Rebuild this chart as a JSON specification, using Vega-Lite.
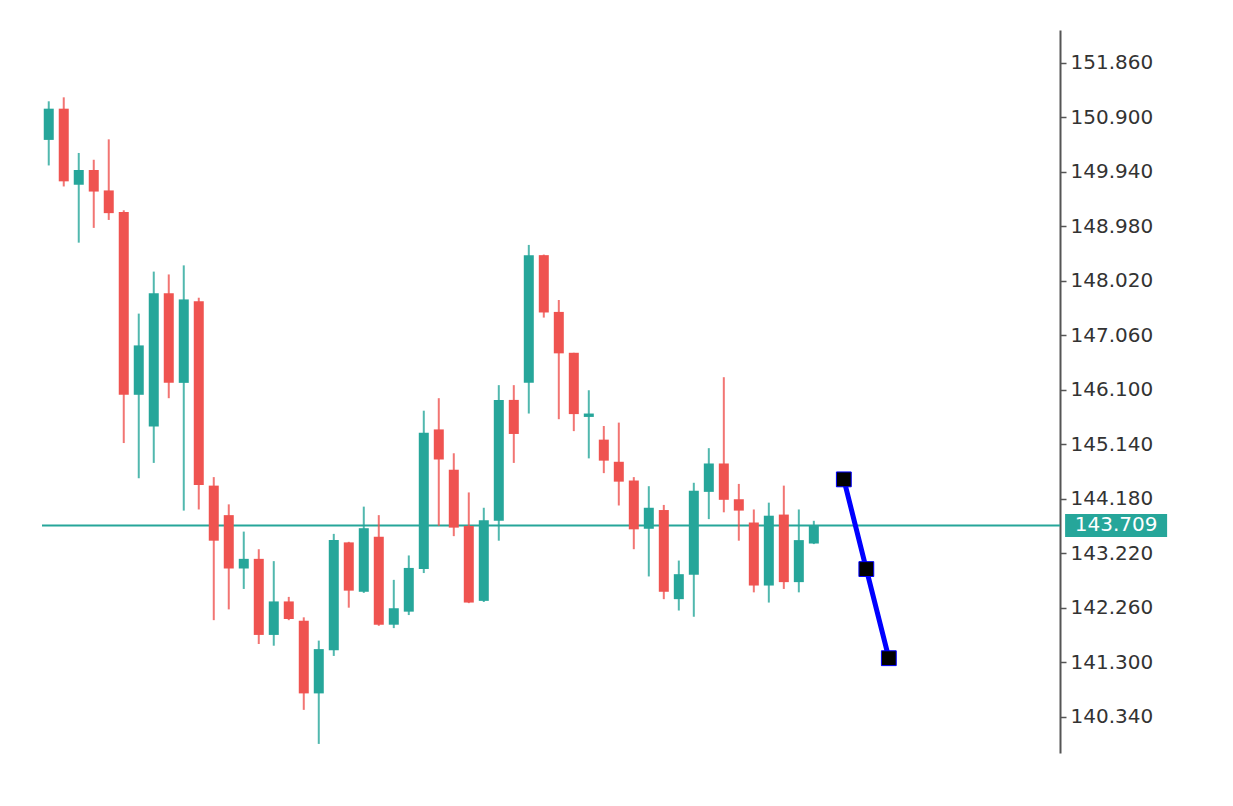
{
  "$schema": "https://vega.github.io/schema/vega-lite/v6.json",
  "width": 1018,
  "height": 723,
  "autosize": {"type": "none"},
  "padding": {"left": 42, "top": 30, "right": 173, "bottom": 53},
  "background": "#ffffff",
  "config": {
    "view": {"stroke": null},
    "axisY": {
      "orient": "right",
      "title": null,
      "grid": false,
      "domainColor": "#555555",
      "domainWidth": 2,
      "tickColor": "#555555",
      "tickWidth": 1.5,
      "tickSize": 6,
      "labelPadding": 4,
      "labelFont": "DejaVu Sans",
      "labelFontSize": 20,
      "labelColor": "#333333",
      "labelOverlap": false,
      "labelBound": false,
      "labelFlush": false
    }
  },
  "datasets": {
    "candles": [
      {"i":0,"o":150.50,"h":151.18,"l":150.05,"c":151.05},
      {"i":1,"o":151.05,"h":151.25,"l":149.68,"c":149.77},
      {"i":2,"o":149.71,"h":150.27,"l":148.69,"c":149.97},
      {"i":3,"o":149.97,"h":150.15,"l":148.95,"c":149.59},
      {"i":4,"o":149.61,"h":150.51,"l":149.09,"c":149.21},
      {"i":5,"o":149.23,"h":149.26,"l":145.16,"c":146.01},
      {"i":6,"o":146.01,"h":147.44,"l":144.54,"c":146.88},
      {"i":7,"o":145.45,"h":148.18,"l":144.81,"c":147.80},
      {"i":8,"o":147.80,"h":148.13,"l":145.95,"c":146.22},
      {"i":9,"o":146.22,"h":148.29,"l":143.97,"c":147.69},
      {"i":10,"o":147.66,"h":147.72,"l":143.99,"c":144.42},
      {"i":11,"o":144.41,"h":144.56,"l":142.04,"c":143.44},
      {"i":12,"o":143.89,"h":144.08,"l":142.23,"c":142.95},
      {"i":13,"o":142.95,"h":143.60,"l":142.59,"c":143.12},
      {"i":14,"o":143.12,"h":143.29,"l":141.62,"c":141.78},
      {"i":15,"o":141.78,"h":143.08,"l":141.59,"c":142.37},
      {"i":16,"o":142.37,"h":142.45,"l":142.04,"c":142.06},
      {"i":17,"o":142.03,"h":142.09,"l":140.46,"c":140.75},
      {"i":18,"o":140.75,"h":141.68,"l":139.86,"c":141.53},
      {"i":19,"o":141.51,"h":143.56,"l":141.41,"c":143.45},
      {"i":20,"o":143.41,"h":143.42,"l":142.26,"c":142.56},
      {"i":21,"o":142.54,"h":144.04,"l":142.52,"c":143.66},
      {"i":22,"o":143.51,"h":143.89,"l":141.94,"c":141.96},
      {"i":23,"o":141.96,"h":142.75,"l":141.90,"c":142.25},
      {"i":24,"o":142.19,"h":143.18,"l":142.13,"c":142.96},
      {"i":25,"o":142.94,"h":145.73,"l":142.87,"c":145.34},
      {"i":26,"o":145.40,"h":145.95,"l":143.70,"c":144.87},
      {"i":27,"o":144.69,"h":144.98,"l":143.52,"c":143.67},
      {"i":28,"o":143.70,"h":144.29,"l":142.34,"c":142.35},
      {"i":29,"o":142.38,"h":144.02,"l":142.36,"c":143.80},
      {"i":30,"o":143.79,"h":146.18,"l":143.44,"c":145.92},
      {"i":31,"o":145.92,"h":146.18,"l":144.81,"c":145.32},
      {"i":32,"o":146.22,"h":148.65,"l":145.68,"c":148.47},
      {"i":33,"o":148.47,"h":148.48,"l":147.37,"c":147.46},
      {"i":34,"o":147.47,"h":147.68,"l":145.58,"c":146.74},
      {"i":35,"o":146.75,"h":146.75,"l":145.37,"c":145.67},
      {"i":36,"o":145.62,"h":146.09,"l":144.89,"c":145.68},
      {"i":37,"o":145.22,"h":145.46,"l":144.63,"c":144.85},
      {"i":38,"o":144.83,"h":145.52,"l":144.06,"c":144.48},
      {"i":39,"o":144.50,"h":144.56,"l":143.29,"c":143.64},
      {"i":40,"o":143.65,"h":144.40,"l":142.81,"c":144.02},
      {"i":41,"o":143.98,"h":144.07,"l":142.41,"c":142.54},
      {"i":42,"o":142.41,"h":143.09,"l":142.21,"c":142.85},
      {"i":43,"o":142.84,"h":144.46,"l":142.10,"c":144.32},
      {"i":44,"o":144.30,"h":145.07,"l":143.82,"c":144.80},
      {"i":45,"o":144.80,"h":146.32,"l":143.94,"c":144.16},
      {"i":46,"o":144.17,"h":144.44,"l":143.44,"c":143.97},
      {"i":47,"o":143.76,"h":143.99,"l":142.53,"c":142.65},
      {"i":48,"o":142.65,"h":144.11,"l":142.35,"c":143.88},
      {"i":49,"o":143.90,"h":144.41,"l":142.59,"c":142.71},
      {"i":50,"o":142.71,"h":143.99,"l":142.53,"c":143.45},
      {"i":51,"o":143.39,"h":143.79,"l":143.38,"c":143.709}
    ],
    "forecast": [
      {"i":53,"p":144.52},
      {"i":54.5,"p":142.94},
      {"i":56,"p":141.37}
    ],
    "last": [
      {"price":143.709,"label":"143.709"}
    ]
  },
  "layer": [
    {
      "data": {"name": "last"},
      "mark": {"type": "rule", "color": "#26a69a", "strokeWidth": 2},
      "encoding": {
        "y": {
          "field": "price", "type": "quantitative",
          "scale": {"domain": [139.70, 152.436], "nice": false, "zero": false, "padding": 0},
          "axis": {
            "title": null,
            "values": [140.34, 141.3, 142.26, 143.22, 144.18, 145.14, 146.1, 147.06, 148.02, 148.98, 149.94, 150.9, 151.86],
            "format": ".3f"
          }
        }
      }
    },
    {
      "data": {"name": "candles"},
      "mark": {"type": "rule", "strokeWidth": 2, "opacity": 0.8},
      "encoding": {
        "x": {"field": "i", "type": "quantitative", "scale": {"domain": [-0.45, 67.41], "nice": false, "zero": false, "padding": 0}, "axis": null},
        "y": {"field": "l", "type": "quantitative", "axis": {"title": null, "values": [140.34, 141.3, 142.26, 143.22, 144.18, 145.14, 146.1, 147.06, 148.02, 148.98, 149.94, 150.9, 151.86], "format": ".3f"}},
        "y2": {"field": "h"},
        "color": {
          "condition": {"test": "datum.c >= datum.o", "value": "#26a69a"},
          "value": "#ef5350"
        }
      }
    },
    {
      "data": {"name": "candles"},
      "mark": {"type": "bar", "width": 10},
      "encoding": {
        "x": {"field": "i", "type": "quantitative", "axis": null},
        "y": {"field": "o", "type": "quantitative", "axis": {"title": null, "values": [140.34, 141.3, 142.26, 143.22, 144.18, 145.14, 146.1, 147.06, 148.02, 148.98, 149.94, 150.9, 151.86], "format": ".3f"}},
        "y2": {"field": "c"},
        "color": {
          "condition": {"test": "datum.c >= datum.o", "value": "#26a69a"},
          "value": "#ef5350"
        }
      }
    },
    {
      "data": {"name": "forecast"},
      "mark": {"type": "line", "color": "#0000ff", "strokeWidth": 5},
      "encoding": {
        "x": {"field": "i", "type": "quantitative", "axis": null},
        "y": {"field": "p", "type": "quantitative", "axis": {"title": null, "values": [140.34, 141.3, 142.26, 143.22, 144.18, 145.14, 146.1, 147.06, 148.02, 148.98, 149.94, 150.9, 151.86], "format": ".3f"}}
      }
    },
    {
      "data": {"name": "forecast"},
      "mark": {"type": "square", "size": 220, "filled": true, "fill": "#000000", "stroke": "#0000ff", "strokeWidth": 1, "opacity": 1},
      "encoding": {
        "x": {"field": "i", "type": "quantitative", "axis": null},
        "y": {"field": "p", "type": "quantitative", "axis": {"title": null, "values": [140.34, 141.3, 142.26, 143.22, 144.18, 145.14, 146.1, 147.06, 148.02, 148.98, 149.94, 150.9, 151.86], "format": ".3f"}}
      }
    },
    {
      "data": {"name": "last"},
      "mark": {"type": "rule", "color": "#26a69a", "strokeWidth": 23, "strokeCap": "butt", "clip": false},
      "encoding": {
        "x": {"datum": 67.75, "type": "quantitative", "axis": null},
        "x2": {"datum": 74.55},
        "y": {"field": "price", "type": "quantitative", "axis": {"title": null, "values": [140.34, 141.3, 142.26, 143.22, 144.18, 145.14, 146.1, 147.06, 148.02, 148.98, 149.94, 150.9, 151.86], "format": ".3f"}}
      }
    },
    {
      "data": {"name": "last"},
      "mark": {"type": "text", "color": "#ffffff", "font": "DejaVu Sans", "fontSize": 20, "align": "center", "baseline": "middle", "clip": false},
      "encoding": {
        "x": {"datum": 71.15, "type": "quantitative", "axis": null},
        "y": {"field": "price", "type": "quantitative", "axis": {"title": null, "values": [140.34, 141.3, 142.26, 143.22, 144.18, 145.14, 146.1, 147.06, 148.02, 148.98, 149.94, 150.9, 151.86], "format": ".3f"}},
        "text": {"field": "label"}
      }
    }
  ]
}
